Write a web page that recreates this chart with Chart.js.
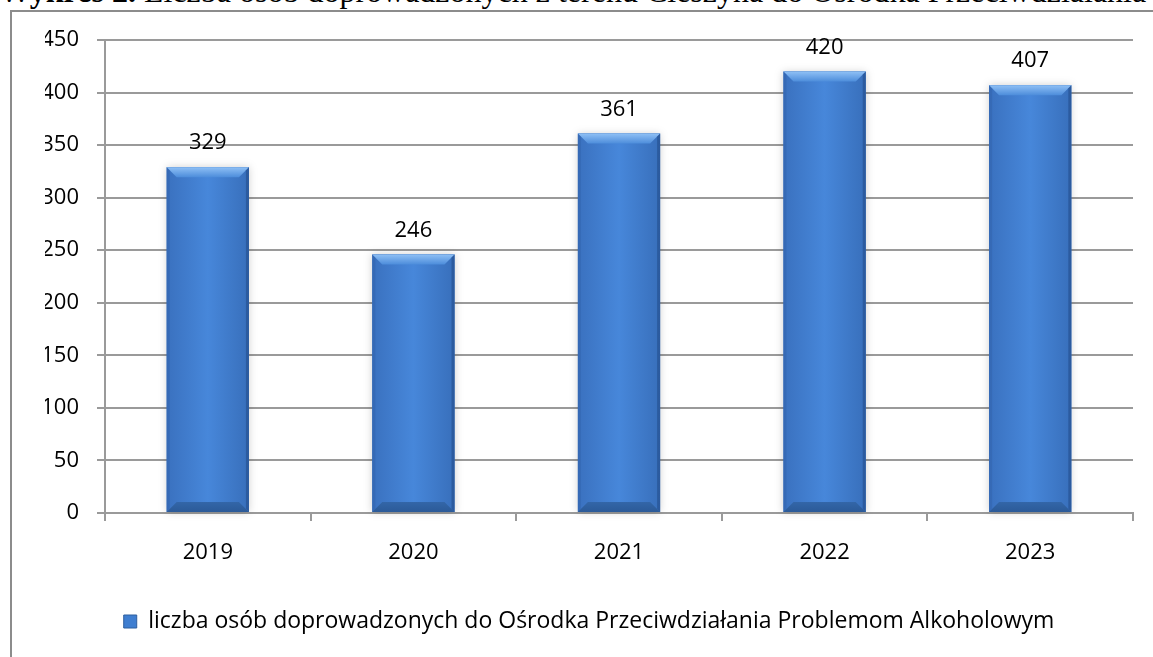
<!DOCTYPE html>
<html>
<head>
<meta charset="utf-8">
<script src="https://cdn.jsdelivr.net/npm/chart.js@4/dist/chart.umd.min.js"></script>
<style>
body { margin: 0; background: #fff; width: 1153px; height: 657px; overflow: hidden; position: relative; }
#naglowek { position: absolute; left: -1px; top: -27px; font-family: "Liberation Serif", serif; font-size: 32px; white-space: nowrap; color: #000; }
#ramka { position: absolute; left: 10px; top: 10px; width: 1200px; height: 700px; border: 2px solid #8c8c8c; }
#wykres { position: absolute; left: 0; top: 0; }
</style>
</head>
<body>
<div id="naglowek"><b>Wykres 2.</b> Liczba osób doprowadzonych z terenu Cieszyna do Ośrodka Przeciwdziałania Problemom Alkoholowym</div>
<div id="ramka"></div>
<canvas id="wykres" width="1153" height="657"></canvas>
<script>
const lata = ['2019', '2020', '2021', '2022', '2023'];
const liczbaOsob = [329, 246, 361, 420, 407];
const etykietaSerii = 'liczba osób doprowadzonych do Ośrodka Przeciwdziałania Problemom Alkoholowym';
const skalaMax = 450;
const skalaKrok = 50;

const czcionka = { family: '"Open Sans", sans-serif', size: 22 };
const czcionkaLegendy = { family: '"Open Sans", sans-serif', size: 23 };
const szary = '#9a9a9a';

// obramowanie "3D" slupkow jak w Excelu
const fazkaSlupkow = {
    id: 'fazkaSlupkow',
    afterDatasetsDraw(chart) {
        const ctx = chart.ctx;
        const meta = chart.getDatasetMeta(0);
        meta.data.forEach(bar => {
            const l = bar.x - bar.width / 2, r = bar.x + bar.width / 2;
            const t = bar.y, b = bar.base;
            const f = 10;
            ctx.save();
            ctx.shadowColor = 'rgba(0,0,0,0.18)';
            ctx.shadowBlur = 8;
            let g = ctx.createLinearGradient(l, 0, r, 0);
            g.addColorStop(0, '#3a71bf');
            g.addColorStop(0.5, '#4787da');
            g.addColorStop(1, '#386fbb');
            ctx.fillStyle = g;
            ctx.fillRect(l, t, r - l, b - t);
            ctx.restore();

            ctx.save();
            // gora
            let gt = ctx.createLinearGradient(0, t, 0, t + f);
            gt.addColorStop(0, '#8fc0f5');
            gt.addColorStop(1, '#4d8ddb');
            ctx.fillStyle = gt;
            ctx.beginPath();
            ctx.moveTo(l, t); ctx.lineTo(r, t); ctx.lineTo(r - f, t + f); ctx.lineTo(l + f, t + f);
            ctx.closePath(); ctx.fill();
            // lewa
            ctx.fillStyle = 'rgba(40,85,150,0.25)';
            ctx.beginPath();
            ctx.moveTo(l, t); ctx.lineTo(l + 3, t + 3); ctx.lineTo(l + 3, b - 3); ctx.lineTo(l, b);
            ctx.closePath(); ctx.fill();
            // prawa
            ctx.fillStyle = 'rgba(25,60,115,0.4)';
            ctx.beginPath();
            ctx.moveTo(r, t); ctx.lineTo(r - 3, t + 3); ctx.lineTo(r - 3, b - 3); ctx.lineTo(r, b);
            ctx.closePath(); ctx.fill();
            // dol
            let gb = ctx.createLinearGradient(0, b - f, 0, b);
            gb.addColorStop(0, '#3366a8');
            gb.addColorStop(1, '#2b5a98');
            ctx.fillStyle = gb;
            ctx.beginPath();
            ctx.moveTo(l, b); ctx.lineTo(r, b); ctx.lineTo(r - f, b - f); ctx.lineTo(l + f, b - f);
            ctx.closePath(); ctx.fill();
            ctx.restore();
        });
    }
};

const wartosciNadSlupkami = {
    id: 'wartosciNadSlupkami',
    afterDatasetsDraw(chart) {
        const ctx = chart.ctx;
        const meta = chart.getDatasetMeta(0);
        ctx.save();
        ctx.font = `${czcionka.size}px ${czcionka.family}`;
        ctx.fillStyle = '#000';
        ctx.textAlign = 'center';
        ctx.textBaseline = 'middle';
        meta.data.forEach((bar, i) => {
            ctx.fillText(liczbaOsob[i], bar.x, bar.y - 24);
        });
        ctx.restore();
    }
};

const ctx = document.getElementById('wykres').getContext('2d');
new Chart(ctx, {
    type: 'bar',
    data: {
        labels: lata,
        datasets: [{
            label: etykietaSerii,
            data: liczbaOsob,
            backgroundColor: '#3f7ed0',
            borderColor: '#2d5e9e',
            borderWidth: 0,
            barPercentage: 0.4,
            categoryPercentage: 1.0
        }]
    },
    options: {
        responsive: false,
        animation: false,
        devicePixelRatio: 1,
        layout: { padding: { left: 45, right: 20, top: 40, bottom: 14 } },
        plugins: {
            tooltip: { enabled: false },
            legend: {
                position: 'bottom',
                labels: {
                    color: '#000',
                    font: czcionkaLegendy,
                    boxWidth: 13,
                    boxHeight: 13,
                    padding: 10,
                    generateLabels(chart) {
                        return [{
                            text: etykietaSerii,
                            fillStyle: '#3f7ed0',
                            strokeStyle: '#2d5e9e',
                            lineWidth: 1,
                            hidden: false,
                            datasetIndex: 0
                        }];
                    }
                }
            }
        },
        scales: {
            x: {
                afterFit(scale) { scale.height = 87; },
                grid: { drawOnChartArea: false, tickLength: 8, color: szary, lineWidth: 2 },
                border: { color: szary, width: 2 },
                ticks: { color: '#000', font: czcionka, padding: 19 }
            },
            y: {
                min: 0,
                max: skalaMax,
                afterFit(scale) { scale.width = 60; },
                grid: { color: szary, lineWidth: 2, tickLength: 8 },
                border: { color: szary, width: 2 },
                ticks: { stepSize: skalaKrok, color: '#000', font: czcionka, padding: 18 }
            }
        }
    },
    plugins: [fazkaSlupkow, wartosciNadSlupkami]
});
</script>
</body>
</html>
